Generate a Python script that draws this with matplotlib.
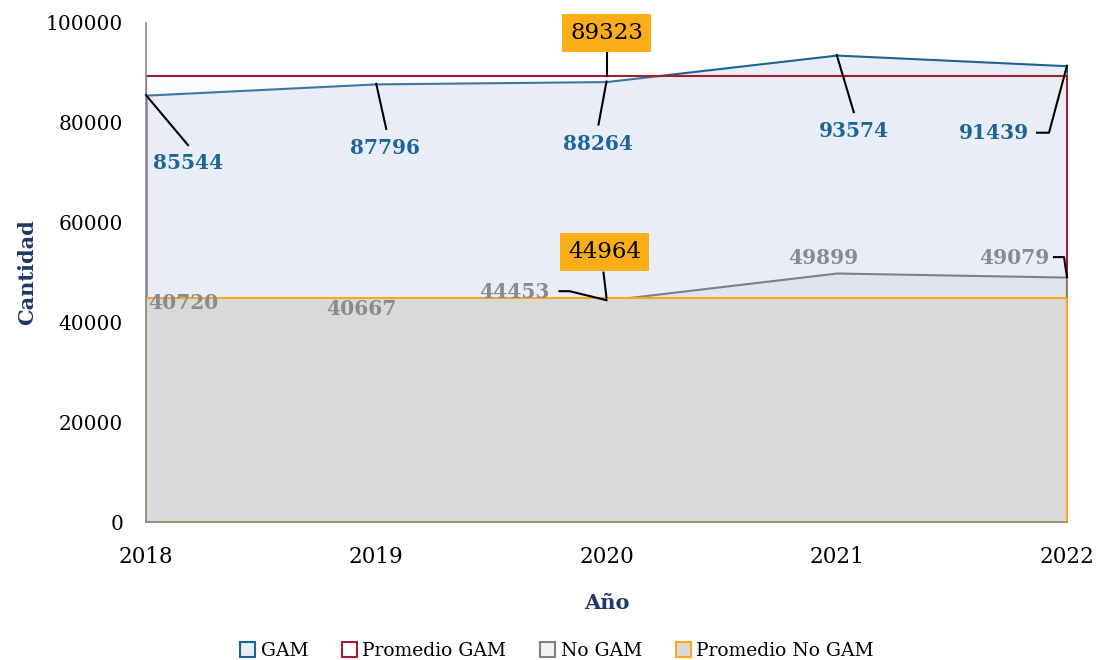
import matplotlib
matplotlib.use('Agg')
import matplotlib.pyplot as plt
from matplotlib.patches import Patch
from matplotlib.lines import Line2D
from matplotlib.transforms import IdentityTransform

years = ['2018', '2019', '2020', '2021', '2022']
gam = [85544, 87796, 88264, 93574, 91439]
no_gam = [40720, 40667, 44453, 49899, 49079]
prom_gam = 89323
prom_no_gam = 44964
y_ticks = [0, 20000, 40000, 60000, 80000, 100000]

BLUE = '#1f6294'
RED = '#a51c30'
GRAY = '#808080'
ORANGE = '#f9a81a'
NAVY = '#1f3864'

plt.rcParams['font.family'] = ['DejaVu Serif']

fig = plt.figure(figsize=(10.97, 6.60), dpi=100)
ax = fig.add_axes([146 / 1097, 1 - 522 / 660, 921 / 1097, 499 / 660])

x = list(range(len(years)))
ax.set_xlim(0, len(years) - 1)
ax.set_ylim(0, 100000)

# areas in the same order as the spreadsheet draws them
ax.fill_between(x, 0, gam, facecolor='#e8eef7', edgecolor=BLUE, lw=1.5, zorder=1)
ax.fill_between(x, 0, [prom_gam] * len(x), facecolor=(0.91, 0.93, 0.97, 0.15),
                edgecolor=RED, lw=1.5, zorder=2)
ax.fill_between(x, 0, no_gam, facecolor=(0.80, 0.82, 0.85, 0.3),
                edgecolor=GRAY, lw=1.5, zorder=3)
ax.fill_between(x, 0, [prom_no_gam] * len(x), facecolor='#d9d9d9',
                edgecolor=ORANGE, lw=1.5, zorder=4)

for s in ['top', 'right']:
    ax.spines[s].set_visible(False)
for s in ['left', 'bottom']:
    ax.spines[s].set_color('#8c8c8c')
    ax.spines[s].set_linewidth(1.2)
    ax.spines[s].set_zorder(6)

ax.set_xticks(x)
ax.set_xticklabels(years, fontsize=15.5)
ax.set_yticks(y_ticks)
ax.set_yticklabels([str(v) for v in y_ticks], fontsize=14.5)
ax.tick_params(axis='x', length=0, pad=17.5)
ax.tick_params(axis='y', length=0, pad=16.5)

ax.set_xlabel('Año', fontsize=15, fontweight='bold', color=NAVY)
ax.set_ylabel('Cantidad', fontsize=15, fontweight='bold', color=NAVY)
ax.xaxis.set_label_coords(0.5, -(593 - 522) / 499)
ax.yaxis.set_label_coords(-(146 - 37) / 921, (522 - 272) / 499)


def leader(xi, v, pts):
    bx, by = ax.transData.transform((xi, v))
    xs = [bx + dx for dx, dy in pts]
    ys = [by - dy for dx, dy in pts]
    fig.add_artist(Line2D(xs, ys, color='black', lw=1.5, transform=IdentityTransform(), zorder=7))


def label(xi, v, text, off, color, weight='bold', size=14.5, box=None):
    ax.annotate(text, xy=(xi, v), xytext=(off[0], -off[1]), textcoords='offset pixels',
                ha='center', va='center', fontsize=size, fontweight=weight, color=color,
                bbox=box, zorder=8, annotation_clip=False)


# GAM labels: text offset and leader path in pixels (dx right, dy down)
gam_text = [(42, 68), (9, 64), (-8, 62), (17, 76), (-73, 67)]
gam_lead = [[(0, 0), (42, 50)], [(0, 0), (10, 45)], [(0, 0), (-8, 43)],
            [(0, 0), (17, 57)], [(0, 0), (-18, 67), (-30, 67)]]
for i, v in enumerate(gam):
    leader(i, v, gam_lead[i])
    label(i, v, str(v), gam_text[i], '#1c6596')

no_text = [(37, -16), (-15, -10), (-92, -8), (-14, -15), (-53, -19)]
no_lead = [None, None, [(0, 0), (-37, -9), (-47, -9)], None, [(0, 0), (-3, -20), (-13, -20)]]
for i, v in enumerate(no_gam):
    if no_lead[i]:
        leader(i, v, no_lead[i])
    label(i, v, str(v), no_text[i], '#8a8a8a')

box = dict(boxstyle='square,pad=0.35', facecolor='#fbad18', edgecolor='none')
leader(2, prom_gam, [(0, 0), (0, -23)])
label(2, prom_gam, str(prom_gam), (0, -43), 'black', weight='normal', size=16.5, box=box)
leader(2, prom_no_gam, [(0, 0), (-3, -25)])
label(2, prom_no_gam, str(prom_no_gam), (-2, -46), 'black', weight='normal', size=16.5, box=box)

handles = [
    Patch(facecolor='#e8eef7', edgecolor=BLUE, lw=1.5, label='GAM'),
    Patch(facecolor='white', edgecolor=RED, lw=1.5, label='Promedio GAM'),
    Patch(facecolor='#f2f2f2', edgecolor=GRAY, lw=1.5, label='No GAM'),
    Patch(facecolor='#d9d9d9', edgecolor=ORANGE, lw=1.5, label='Promedio No GAM'),
]
fig.legend(handles=handles, loc='center', bbox_to_anchor=(557 / 1097, 1 - 651 / 660),
           ncol=4, frameon=False, fontsize=13.5, handlelength=0.8, handleheight=0.8,
           handletextpad=0.3, columnspacing=1.8)

fig.savefig('out.png', dpi=100)
